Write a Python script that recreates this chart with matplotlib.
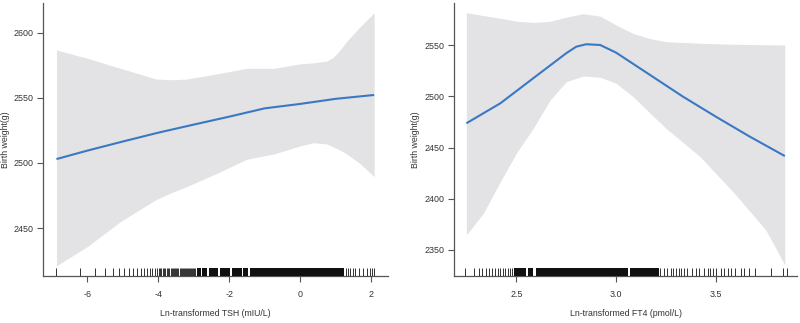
import matplotlib
matplotlib.use("Agg")
import matplotlib.pyplot as plt
import numpy as np

plt.rcParams['font.family'] = ['Liberation Sans', 'DejaVu Sans']

# ---------------- Data: left panel (TSH) ----------------
tsh_x = [-6.87, -6.0, -5.0, -4.0, -3.0, -2.0, -1.0, 0.0, 1.0, 2.09]
tsh_fit = [2503.0, 2509.5, 2516.5, 2523.3, 2529.5, 2535.6, 2542.0, 2545.4, 2549.3, 2552.3]
tsh_band_x = [-6.87, -6.0, -5.07, -4.05, -3.6, -3.2, -2.35, -1.5, -0.73, 0.0, 0.38, 0.75, 0.93, 1.12, 1.31, 1.68, 2.09]
tsh_upper = [2586.9, 2580.5, 2572.8, 2564.5, 2564.0, 2564.5, 2568.5, 2572.8, 2572.8, 2576.2, 2577.0, 2578.3, 2581.0, 2586.5, 2593.3, 2604.4, 2615.5]
tsh_lower = [2421.0, 2435.7, 2454.9, 2472.0, 2477.5, 2481.8, 2492.0, 2502.9, 2507.0, 2513.1, 2515.6, 2514.6, 2512.5, 2510.0, 2507.0, 2499.8, 2489.5]
tsh_rug = [-6.87, -6.2, -5.78, -5.49, -5.27, -5.1, -4.96, -4.83, -4.7, -4.59, -4.5, -4.4,
           -4.32, -4.24, -4.17, -4.1, -4.04, -3.99, -3.95, -3.91, -3.87, -3.83, -3.8, -3.76,
           -3.72, -3.69, -3.65, -3.62, -3.58, -3.55, -3.52, -3.49, -3.46, -3.43, -3.4, -3.37,
           -3.34, -3.31, -3.28, -3.25, -3.22, -3.19, -3.16, -3.13, -3.1, -3.07, -3.04, -3.01,
           -2.98, -2.95, -2.92, 1.3, 1.36, 1.42, 1.48, 1.55, 1.65, 1.77, 1.88, 1.96, 2.02, 2.09]
tsh_rug_blocks = [(-2.9, -2.8), (-2.76, -2.62), (-2.57, -2.32), (-2.27, -1.97),
                  (-1.92, -1.64), (-1.6, -1.46), (-1.42, 1.24)]
tsh_xticks = [-6, -4, -2, 0, 2]
tsh_yticks = [2450, 2500, 2550, 2600]

# ---------------- Data: right panel (FT4) ----------------
ft4_x = [2.25, 2.42, 2.585, 2.75, 2.8, 2.85, 2.92, 3.0, 3.17, 3.335, 3.5, 3.67, 3.845]
ft4_fit = [2473.8, 2493.3, 2517.8, 2542.2, 2548.6, 2551.0, 2550.3, 2542.8, 2521.0, 2499.8, 2480.2, 2460.7, 2441.8]
ft4_band_x = [2.25, 2.335, 2.42, 2.50, 2.585, 2.67, 2.75, 2.835, 2.92, 3.0, 3.085, 3.17, 3.25, 3.42, 3.585, 3.75, 3.845]
ft4_upper = [2581.8, 2579.0, 2576.4, 2573.5, 2572.3, 2573.5, 2577.5, 2580.8, 2578.5, 2569.8, 2561.5, 2556.5, 2553.5, 2552.0, 2551.0, 2550.5, 2550.3]
ft4_lower = [2364.7, 2385.9, 2416.7, 2444.5, 2468.9, 2496.6, 2514.4, 2520.0, 2518.7, 2512.9, 2499.8, 2483.6, 2468.9, 2441.2, 2407.0, 2369.5, 2335.4]
ft4_rug = [2.242, 2.288, 2.313, 2.33, 2.347, 2.364, 2.38, 2.394, 2.406, 2.418, 2.431, 2.444,
           2.456, 2.468, 2.478, 3.222, 3.239, 3.256, 3.273, 3.286, 3.298, 3.315, 3.327, 3.34,
           3.357, 3.382, 3.399, 3.416, 3.441, 3.458, 3.471, 3.483, 3.5, 3.525, 3.542, 3.559,
           3.576, 3.593, 3.626, 3.643, 3.668, 3.694, 3.778, 3.837, 3.854]
ft4_rug_blocks = [(2.49, 2.549), (2.557, 2.582), (2.599, 3.062), (3.07, 3.214)]
ft4_xticks = [2.5, 3.0, 3.5]
ft4_yticks = [2350, 2400, 2450, 2500, 2550]

BAND = '#e3e3e5'
LINE = '#3b78c4'
AXC = '#555555'
TXT = '#333333'

fig = plt.figure(figsize=(8.0, 3.23), dpi=100)
ax1 = fig.add_axes([43/800, 1-276/323, (388-43)/800, 273/323])
ax2 = fig.add_axes([454/800, 1-276.3/323, (797-454)/800, 273.3/323])


def style(ax, xlim, ylim, xticks, yticks, xticklabels, xlabel, ylab_x):
    ax.set_xlim(*xlim)
    ax.set_ylim(*ylim)
    for s in ['top', 'right']:
        ax.spines[s].set_visible(False)
    for s in ['left', 'bottom']:
        ax.spines[s].set_color(AXC)
        ax.spines[s].set_linewidth(0.9)
    ax.set_xticks(xticks)
    ax.set_xticklabels(xticklabels)
    ax.set_yticks(yticks)
    ax.set_yticklabels([str(v) for v in yticks])
    ax.tick_params(axis='both', colors=AXC, labelcolor=TXT, labelsize=6.4,
                   length=4, width=0.8)
    ax.tick_params(axis='x', pad=6.0)
    ax.tick_params(axis='y', pad=3.0)
    ax.set_xlabel(xlabel, fontsize=6.3, color=TXT)
    ax.xaxis.set_label_coords(0.5, -37/273, transform=ax.transAxes)
    ax.set_ylabel('Birth weight(g)', fontsize=6.3, color=TXT)
    ax.yaxis.set_label_coords(ylab_x, 0.5)
    ax.xaxis.label.set_verticalalignment('center')
    ax.yaxis.label.set_verticalalignment('center')


def draw(ax, bx, up, lo, x, fit, rug, blocks):
    ax.fill_between(bx, lo, up, color=BAND, lw=0, zorder=1)
    ax.plot(x, fit, color=LINE, lw=1.5, zorder=3, solid_capstyle='butt')
    tr = ax.get_xaxis_transform()
    ax.vlines(rug, 0, 0.03, transform=tr, color='#111111', lw=0.6, zorder=4)
    for a, b in blocks:
        ax.axvspan(a, b, ymin=0, ymax=0.03, color='#111111', lw=0, zorder=4)


draw(ax1, tsh_band_x, tsh_upper, tsh_lower, tsh_x, tsh_fit, tsh_rug, tsh_rug_blocks)
style(ax1, (-7.25, 2.48), (2413.1, 2623.0), tsh_xticks, tsh_yticks,
      [str(v) for v in tsh_xticks], 'Ln-transformed TSH (mIU/L)', -37/345)

draw(ax2, ft4_band_x, ft4_upper, ft4_lower, ft4_x, ft4_fit, ft4_rug, ft4_rug_blocks)
style(ax2, (2.188, 3.906), (2324.3, 2591.3), ft4_xticks, ft4_yticks,
      ['%.1f' % v for v in ft4_xticks], 'Ln-transformed FT4 (pmol/L)', -39/343)

fig.savefig('out.png', dpi=100)
